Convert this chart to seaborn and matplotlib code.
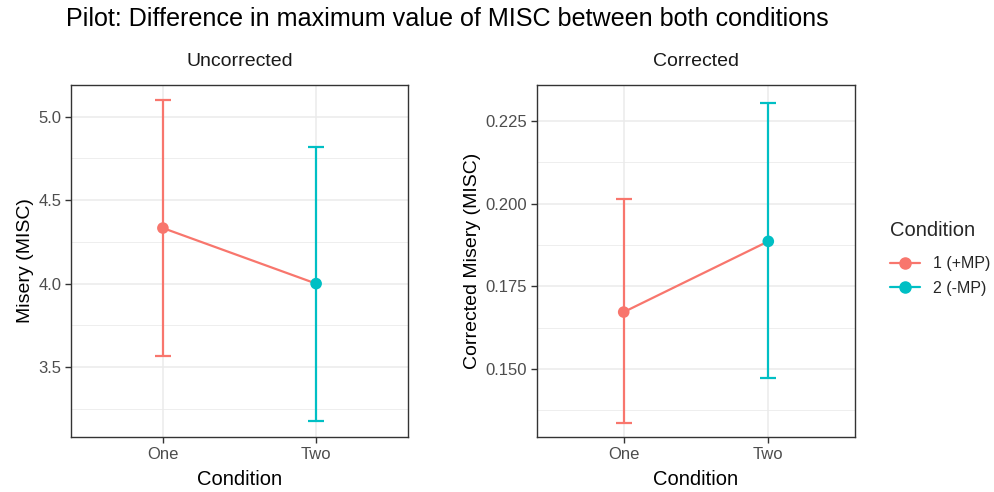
import matplotlib
matplotlib.use("Agg")
import matplotlib.pyplot as plt
import seaborn as sns
import pandas as pd
from matplotlib.lines import Line2D
from matplotlib.ticker import MultipleLocator

# ---- data ----
conditions = ["One", "Two"]
groups = ["1 (+MP)", "2 (-MP)"]
unc_mean = [4.333, 4.0]
unc_lo = [3.568, 3.178]
unc_hi = [5.098, 4.816]
cor_mean = [0.1672, 0.1886]
cor_lo = [0.1337, 0.1473]
cor_hi = [0.2014, 0.2304]
unc_ticks = [3.5, 4.0, 4.5, 5.0]
cor_ticks = [0.150, 0.175, 0.200, 0.225]

palette = {"1 (+MP)": "#F8766D", "2 (-MP)": "#00BFC4"}

sns.set_theme(style="white")
plt.rcParams["font.family"] = ["Liberation Sans", "DejaVu Sans"]

fig = plt.figure(figsize=(9.94, 4.92), dpi=100)
ax1 = fig.add_axes([0.0714, 0.1118, 0.3391, 0.7154])
ax2 = fig.add_axes([0.5402, 0.1118, 0.3200, 0.7154])

def panel(ax, mean, lo, hi, ylim, ticks, minor, ylabel, title, fmt):
    df = pd.DataFrame({"cond": conditions, "grp": groups, "mean": mean,
                       "lo": lo, "hi": hi})
    ax.set_axisbelow(True)
    # error bars
    for _, r in df.iterrows():
        ax.errorbar([r["cond"]], [r["mean"]],
                    yerr=[[r["mean"] - r["lo"]], [r["hi"] - r["mean"]]],
                    fmt="none", ecolor=palette[r["grp"]], elinewidth=1.6,
                    capsize=6, capthick=1.6, zorder=2)
    # connecting line
    sns.lineplot(data=df, x="cond", y="mean", ax=ax, color="#F8766D",
                 lw=1.6, zorder=3, sort=False)
    sns.scatterplot(data=df, x="cond", y="mean", hue="grp", palette=palette,
                    s=70, edgecolor="none", ax=ax, zorder=4, legend=False)
    ax.set_xlim(-0.6, 1.6)
    ax.set_ylim(*ylim)
    ax.set_yticks(ticks)
    ax.set_yticklabels([fmt % t for t in ticks])
    ax.yaxis.set_minor_locator(MultipleLocator(minor))
    ax.grid(which="major", color="#EBEBEB", lw=1.1)
    ax.grid(which="minor", axis="y", color="#EBEBEB", lw=0.6)
    ax.tick_params(axis="both", which="major", length=4, width=1,
                   color="#333333", labelcolor="#4D4D4D", labelsize=12,
                   direction="out", left=True, bottom=True, pad=3)
    ax.tick_params(axis="y", which="minor", length=0)
    for s in ax.spines.values():
        s.set_color("#333333")
        s.set_linewidth(1.0)
    ax.set_xlabel("Condition", fontsize=14.5, color="black", labelpad=6)
    ax.set_ylabel(ylabel, fontsize=14, color="black", labelpad=3)
    ax.set_title(title, fontsize=14, color="#1A1A1A", pad=14)

panel(ax1, unc_mean, unc_lo, unc_hi, (3.081, 5.19), unc_ticks, 0.25,
      "Misery (MISC)", "Uncorrected", "%.1f")
panel(ax2, cor_mean, cor_lo, cor_hi, (0.1294, 0.2359), cor_ticks, 0.0125,
      "Corrected Misery (MISC)", "Corrected", "%.3f")

fig.text(0.066, 0.962, "Pilot: Difference in maximum value of MISC between both conditions",
         fontsize=18.1, ha="left", va="center", color="black")

handles = [Line2D([0], [0], color=palette[g], lw=1.6, marker="o", markersize=8)
           for g in groups]
leg = fig.legend(handles, groups, title="Condition", loc="center left",
                 bbox_to_anchor=(0.887, 0.475), frameon=False, fontsize=11.5,
                 title_fontsize=14.5, handlelength=1.9, labelspacing=0.6,
                 handletextpad=0.8, borderaxespad=0.1)
leg._legend_box.align = "left"
leg._legend_box.sep = 12

fig.savefig("out.png", dpi=100)
